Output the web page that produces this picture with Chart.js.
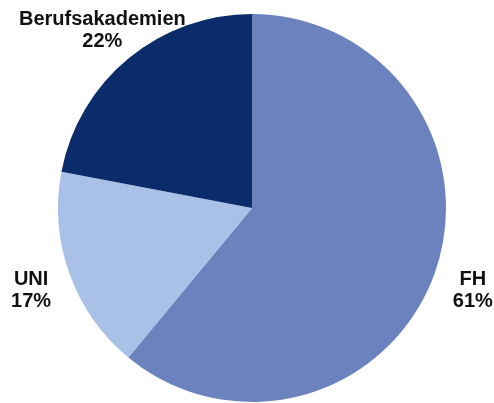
<!DOCTYPE html>
<html>
<head>
<meta charset="utf-8">
<script src="https://cdn.jsdelivr.net/npm/chart.js@4"></script>
<style>
  html, body { margin: 0; padding: 0; background: #fff; }
  #wrap { width: 494px; height: 403px; }
</style>
</head>
<body>
<div id="wrap"><canvas id="pieChart" width="494" height="403"></canvas></div>
<script>
// data
const categories = ['FH', 'UNI', 'Berufsakademien']
const shares = [61, 17, 22]
const sliceColors = ['#6b82bf', '#a9c1e7', '#0b2b6b']

// draws "name / xx%" outside each slice, along its middle angle
const outsideLabels = {
  id: 'outsideLabels',
  afterDatasetsDraw(chart) {
    const ctx = chart.ctx
    const meta = chart.getDatasetMeta(0)
    ctx.save()
    ctx.font = 'bold 20px "Liberation Sans", Arial, sans-serif'
    ctx.fillStyle = '#111'
    ctx.textAlign = 'center'
    ctx.textBaseline = 'middle'
    meta.data.forEach((arc, i) => {
      const { x, y, startAngle, endAngle, outerRadius } = arc.getProps(['x', 'y', 'startAngle', 'endAngle', 'outerRadius'], true)
      const mid = (startAngle + endAngle) / 2
      const dist = outerRadius * 1.21
      const lx = x + Math.cos(mid) * dist
      const ly = y + Math.sin(mid) * dist
      ctx.fillText(categories[i], lx, ly - 8)
      ctx.fillText(shares[i] + '%', lx, ly + 14)
    })
    ctx.restore()
  }
}

new Chart(document.getElementById('pieChart').getContext('2d'), {
  type: 'pie',
  data: {
    labels: categories,
    datasets: [
      {
        data: shares,
        backgroundColor: sliceColors,
        borderWidth: 0
      }
    ]
  },
  options: {
    responsive: false,
    animation: false,
    layout: {
      padding: { top: 14, bottom: 1, left: 58, right: 48 }
    },
    plugins: {
      legend: { display: false },
      tooltip: { enabled: false }
    }
  },
  plugins: [outsideLabels]
})
</script>
</body>
</html>
